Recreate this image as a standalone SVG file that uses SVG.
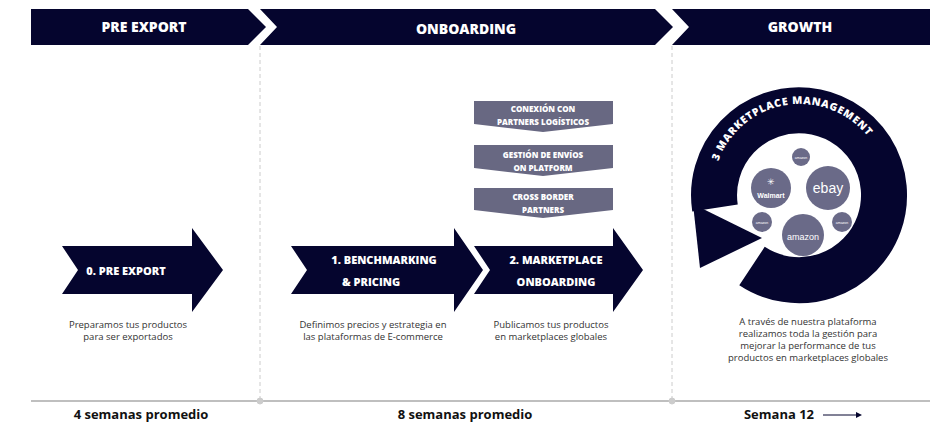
<svg xmlns="http://www.w3.org/2000/svg" width="941" height="430" viewBox="0 0 941 430">
<style>
.nv{fill:#05052e}
.gb{fill:#686882}
.h{font-family:"Open Sans","Liberation Sans",sans-serif;font-weight:800;fill:#fff;text-anchor:middle}
.s{font-family:"Open Sans","Liberation Sans",sans-serif;font-size:9.5px;fill:#333;text-anchor:middle}
.b{font-family:"Open Sans","Liberation Sans",sans-serif;font-size:13px;font-weight:700;fill:#111;text-anchor:middle}
.g{font-family:"Open Sans","Liberation Sans",sans-serif;font-size:8px;font-weight:800;fill:#fff;text-anchor:middle}
.lg{fill:#6a6a88}
.lt{font-family:"Liberation Sans",sans-serif;fill:#fff;text-anchor:middle}
</style>
<rect width="941" height="430" fill="#fff"/>
<g id="connectors" stroke="#ccc" stroke-width="1">
<line x1="260" y1="46" x2="260" y2="400" stroke-dasharray="4,3"/>
<line x1="672" y1="46" x2="672" y2="400" stroke-dasharray="4,3"/>
<line x1="31" y1="401" x2="930" y2="401" stroke="#aaa" stroke-width="1.5"/>
<circle cx="260" cy="401" r="3" fill="#ccc"/>
<circle cx="672" cy="401" r="3" fill="#ccc"/>
<line x1="823" y1="415" x2="856" y2="415" stroke="#05052e"/>
<polygon points="856,412 862,415 856,418" fill="#05052e" stroke="none"/>
</g>
<g id="hdr-pre"><polygon class="nv" points="31,9 248,9 266,27 248,45 31,45"/><text class="h" x="144" y="32" font-size="14">PRE EXPORT</text></g>
<g id="hdr-onb"><polygon class="nv" points="260,9 655,9 673,27 655,45 260,45 277,27"/><text class="h" x="466" y="34" font-size="14">ONBOARDING</text></g>
<g id="hdr-gro"><polygon class="nv" points="672,9 930,9 930,45 672,45 689,27"/><text class="h" x="800" y="32" font-size="14">GROWTH</text></g>
<g id="a0"><polygon class="nv" points="62,246 192,246 192,228 223,270 192,312 192,294 62,294 78,270"/><text class="h" x="126" y="275" font-size="11">0. PRE EXPORT</text></g>
<g id="a1"><polygon class="nv" points="291,246 454,246 454,228 483,270 454,312 454,294 291,294 307,270"/><text class="h" x="384" y="264" font-size="11">1. BENCHMARKING</text><text class="h" x="371" y="286" font-size="11">&amp; PRICING</text></g>
<g id="a2"><polygon class="nv" points="474,246 613,246 613,228 643,270 613,312 613,294 474,294 490,270"/><text class="h" x="556" y="264" font-size="11">2. MARKETPLACE</text><text class="h" x="556" y="286" font-size="11">ONBOARDING</text></g>
<g id="box1"><polygon class="gb" points="474,101 613,101 613,124 543,132 474,124"/><text class="g" x="543" y="112">CONEXIÓN CON</text><text class="g" x="543" y="125">PARTNERS LOGÍSTICOS</text></g>
<g id="box2"><polygon class="gb" points="474,145 613,145 613,168 543,176 474,168"/><text class="g" x="543" y="158">GESTIÓN DE ENVÍOS</text><text class="g" x="543" y="171">ON PLATFORM</text></g>
<g id="box3"><polygon class="gb" points="474,188 613,188 613,210 543,218 474,210"/><text class="g" x="543" y="200">CROSS BORDER</text><text class="g" x="543" y="213">PARTNERS</text></g>
<g id="ring">
<path d="M752,266 A85,85 0 1 0 715,208" fill="none" stroke="#05052e" stroke-width="46"/>
<polygon class="nv" points="693,204 762,238 700,268"/>
<path id="tp" d="M718,220 A87,87 0 1 1 882,220" fill="none"/>
<text font-family="'Open Sans','Liberation Sans',sans-serif" font-size="10.5" font-weight="800" fill="#fff" letter-spacing="0.7"><textPath href="#tp" startOffset="18%">3  MARKETPLACE MANAGEMENT</textPath></text>
</g>
<g id="logos">
<circle class="lg" cx="801" cy="157" r="9"/><text class="lt" x="801" y="158.5" font-size="3.5">amazon</text>
<circle class="lg" cx="771" cy="188" r="20"/><text class="lt" x="771" y="185" font-size="9">✳</text><text class="lt" x="771" y="198" font-size="7" font-weight="700">Walmart</text>
<circle class="lg" cx="828" cy="188" r="22"/><text class="lt" x="828" y="193" font-size="14">ebay</text>
<circle class="lg" cx="762" cy="222" r="10"/><text class="lt" x="762" y="223.5" font-size="3.5">amazon</text>
<circle class="lg" cx="842" cy="222" r="10"/><text class="lt" x="842" y="223.5" font-size="3.5">amazon</text>
<circle class="lg" cx="803" cy="235" r="21"/><text class="lt" x="803" y="240" font-size="9">amazon</text>
</g>
<g id="desc">
<text class="s" x="128" y="328">Preparamos tus productos</text><text class="s" x="128" y="340">para ser exportados</text>
<text class="s" x="373" y="328">Definimos precios y estrategia en</text><text class="s" x="373" y="340">las plataformas de E-commerce</text>
<text class="s" x="551" y="328">Publicamos tus productos</text><text class="s" x="551" y="340">en marketplaces globales</text>
<text class="s" x="808" y="325">A través de nuestra plataforma</text><text class="s" x="808" y="337">realizamos toda la gestión para</text><text class="s" x="808" y="349">mejorar la performance de tus</text><text class="s" x="808" y="361">productos en marketplaces globales</text>
</g>
<g id="bottom">
<text class="b" x="141" y="419">4 semanas promedio</text>
<text class="b" x="465" y="419">8 semanas promedio</text>
<text class="b" x="779" y="419">Semana 12</text>
</g>
</svg>
